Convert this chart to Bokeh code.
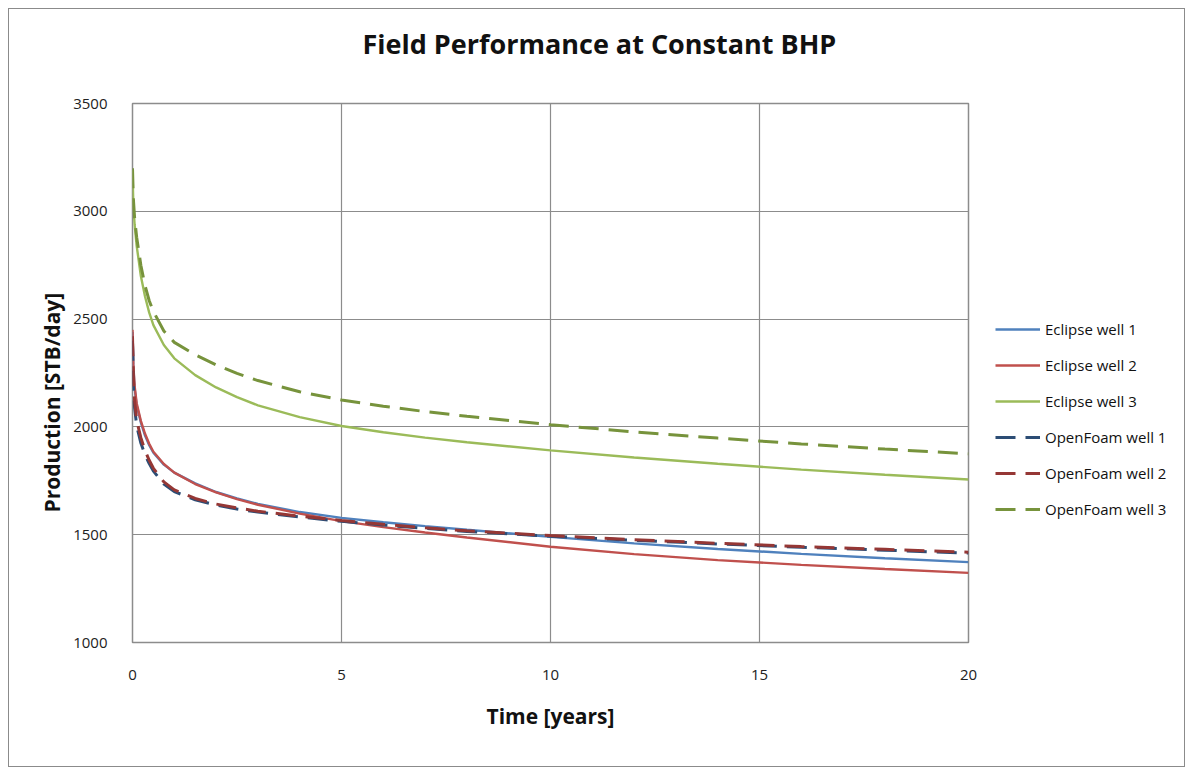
from bokeh.plotting import figure
from bokeh.layouts import row
from bokeh.models import Legend, LegendItem, FixedTicker, Range1d, Title
from bokeh.embed import file_html
from bokeh.resources import INLINE

# Simulation time in years
years = [0, 0.02, 0.05, 0.1, 0.2, 0.3, 0.4, 0.5, 0.75, 1.0, 1.5, 2.0, 2.5,
         3.0, 4.0, 5.0, 6.0, 7.0, 8.0, 10.0, 12.0, 14.0, 16.0, 18.0, 20.0]

# Oil production rate [STB/day]
eclipse_well_1 = [2440, 2280, 2180, 2100, 2020, 1960, 1915, 1880, 1825, 1788, 1738, 1698, 1668,
                  1643, 1605, 1578, 1558, 1540, 1523, 1490, 1460, 1434, 1411, 1391, 1373]
eclipse_well_2 = [2450, 2290, 2190, 2110, 2028, 1968, 1922, 1885, 1828, 1788, 1735, 1696, 1665,
                  1639, 1598, 1563, 1535, 1510, 1487, 1444, 1410, 1382, 1360, 1341, 1323]
eclipse_well_3 = [3190, 3030, 2940, 2840, 2700, 2605, 2530, 2472, 2380, 2318, 2240, 2183, 2138,
                  2100, 2045, 2004, 1975, 1950, 1929, 1891, 1858, 1829, 1802, 1778, 1756]
openfoam_well_1 = [2400, 2200, 2090, 2005, 1925, 1870, 1830, 1795, 1735, 1700, 1662, 1637, 1619,
                   1605, 1582, 1562, 1545, 1529, 1515, 1493, 1474, 1457, 1442, 1428, 1415]
openfoam_well_2 = [2420, 2230, 2120, 2030, 1950, 1890, 1845, 1808, 1745, 1708, 1668, 1642, 1624,
                   1609, 1586, 1566, 1548, 1532, 1518, 1496, 1477, 1460, 1445, 1432, 1419]
openfoam_well_3 = [3200, 3060, 2970, 2880, 2750, 2655, 2585, 2535, 2445, 2392, 2335, 2288, 2248,
                   2215, 2163, 2125, 2096, 2071, 2049, 2010, 1977, 1948, 1921, 1897, 1875]

x_ticks = [0, 5, 10, 15, 20]
y_ticks = [1000, 1500, 2000, 2500, 3000, 3500]

series = [
    ("Eclipse well 1", eclipse_well_1, "#4F81BD", "solid", 2.4),
    ("Eclipse well 2", eclipse_well_2, "#C0504D", "solid", 2.4),
    ("Eclipse well 3", eclipse_well_3, "#9BBB59", "solid", 2.4),
    ("OpenFoam well 1", openfoam_well_1, "#2C4D75", "20 10", 3),
    ("OpenFoam well 2", openfoam_well_2, "#953735", "20 10", 3),
    ("OpenFoam well 3", openfoam_well_3, "#77933C", "20 10", 3),
]

GRID = "#8C8C8C"
FONT = "Open Sans"

p = figure(width=971, height=757, output_backend="svg", toolbar_location=None,
           title=None,
           x_range=Range1d(0, 20), y_range=Range1d(1000, 3500),
           min_border_left=123, min_border_right=12,
           min_border_top=94, min_border_bottom=124)

p.background_fill_color = "white"
p.border_fill_color = "white"
p.outline_line_color = GRID
p.outline_line_width = 1.5

# spacer keeps the heading clear of the plot frame
p.add_layout(Title(text=" ", text_font_size="22px"), "above")
p.add_layout(Title(text="Field Performance at Constant BHP", align="left", offset=230,
                   text_font=FONT, text_font_size="27px", text_font_style="bold",
                   text_color="#111111"), "above")

for ax in (p.xaxis[0], p.yaxis[0]):
    ax.axis_line_color = None
    ax.major_tick_line_color = None
    ax.minor_tick_line_color = None
    ax.major_label_text_font = FONT
    ax.major_label_text_font_size = "15px"
    ax.major_label_text_color = "#222222"

p.xaxis.ticker = FixedTicker(ticks=x_ticks)
p.yaxis.ticker = FixedTicker(ticks=y_ticks)
p.xaxis.axis_label = "Time [years]"
p.xaxis.axis_label_text_font = FONT
p.xaxis.axis_label_text_font_size = "21px"
p.xaxis.axis_label_text_font_style = "bold"
p.xaxis.axis_label_text_color = "#111111"
p.xaxis.major_label_standoff = 21
p.yaxis.major_label_standoff = 19
p.xaxis.axis_label_standoff = 19

# vertical axis title, set a little below the middle of the frame
p.add_layout(Title(text="Production [STB/day]", align="left", offset=130,
                   text_font=FONT, text_font_size="21px", text_font_style="bold",
                   text_color="#111111"), "left")

p.xgrid.ticker = FixedTicker(ticks=x_ticks)
p.ygrid.ticker = FixedTicker(ticks=y_ticks)
p.xgrid.grid_line_color = GRID
p.ygrid.grid_line_color = GRID
p.xgrid.grid_line_width = 1.2
p.ygrid.grid_line_width = 1.2

for name, vals, color, dash, width in series:
    p.line(years, vals, line_color=color, line_dash=dash, line_width=width)

# legend panel to the right of the plot area; its ranges keep the
# series themselves out of view so only the legend keys show
lf = figure(width=204, height=757, output_backend="svg", toolbar_location=None,
            title=None, x_range=Range1d(0, 1), y_range=Range1d(0, 1),
            min_border=0)
lf.axis.visible = False
lf.grid.visible = False
lf.outline_line_color = None
lf.background_fill_color = "white"
lf.border_fill_color = "white"

items = []
for name, vals, color, dash, width in series:
    r = lf.line(years, vals, line_color=color, line_dash=dash, line_width=width)
    items.append(LegendItem(label=name, renderers=[r]))

legend = Legend(items=items, location=(15, 123),
                border_line_color=None, background_fill_alpha=0,
                padding=0, margin=0, spacing=16,
                glyph_width=45, glyph_height=20, label_height=20,
                label_standoff=5, label_text_font=FONT,
                label_text_font_size="15px", label_text_color="#111111")
lf.add_layout(legend, "center")

layout = row(p, lf, spacing=0)
layout.styles = {"border": "1px solid #8b8b8b", "margin-left": "8px", "margin-top": "8px"}

open("out.html", "w").write(file_html(layout, INLINE))
